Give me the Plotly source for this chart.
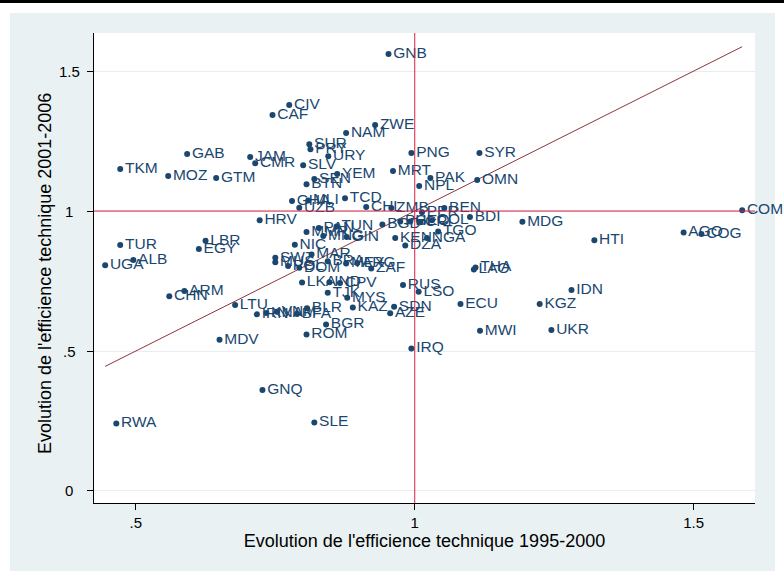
import plotly.graph_objects as go

countries = ["GNB","CIV","CAF","ZWE","NAM","SUR","PRY","GAB","PNG","SYR","JAM","URY","CMR","SLV",
             "TKM","MRT","YEM","MOZ","SEN","GTM","PAK","OMN","BTN","NPL","TCD","GHA","MLI","UZB",
             "CHL","ZMB","PER","BEN","BDI","BGD","PHL","GEO","CRI","COL","TGO","NGA","KEN","DZA",
             "MMR","PAN","TUN","MNG","GIN","NIC","SWZ","MUS","MAR","POL","DOM","BRA","MEX","ARG",
             "ZAF","LKA","IND","CPV","TJK","MYS","KAZ","SDN","AZE","RUS","LSO","BGR","BLR","IRN",
             "KNA","VNM","BFA","ROM","IRQ","MDV","GNQ","SLE","RWA","LTU","TUR","UGA","ALB","LBR",
             "EGY","ARM","CHN","HRV","MDG","HTI","AGO","COG","COM","THA","LAO","IDN","KGZ","MWI",
             "UKR","ECU"]
eff_1995_2000 = [0.953,0.775,0.745,0.929,0.877,0.811,0.813,0.592,0.994,1.116,0.705,0.845,0.714,0.800,
                 0.472,0.961,0.861,0.558,0.820,0.644,1.028,1.112,0.806,1.008,0.875,0.780,0.809,0.793,
                 0.913,0.958,1.013,1.053,1.099,0.942,0.974,0.992,1.010,1.031,1.042,1.022,0.965,0.983,
                 0.806,0.828,0.860,0.836,0.878,0.785,0.750,0.750,0.815,0.773,0.793,0.844,0.877,0.897,
                 0.922,0.798,0.847,0.866,0.844,0.879,0.889,0.963,0.956,0.979,1.007,0.841,0.807,0.717,
                 0.734,0.753,0.789,0.806,0.994,0.650,0.727,0.820,0.465,0.678,0.472,0.445,0.4955,0.625,
                 0.613,0.587,0.560,0.722,1.193,1.322,1.482,1.514,1.587,1.109,1.106,1.281,1.224,1.117,
                 1.245,1.082]
eff_2001_2006 = [1.561,1.379,1.343,1.307,1.279,1.239,1.221,1.204,1.207,1.207,1.193,1.196,1.171,1.164,
                 1.150,1.143,1.132,1.125,1.114,1.118,1.118,1.111,1.096,1.089,1.046,1.036,1.038,1.012,
                 1.014,1.011,0.996,1.011,0.979,0.952,0.963,0.963,0.960,0.967,0.927,0.904,0.904,0.877,
                 0.925,0.939,0.945,0.911,0.907,0.880,0.833,0.817,0.845,0.804,0.797,0.821,0.813,0.814,
                 0.795,0.745,0.746,0.743,0.708,0.690,0.655,0.658,0.635,0.736,0.712,0.595,0.653,0.631,
                 0.636,0.640,0.632,0.559,0.509,0.540,0.361,0.245,0.241,0.664,0.879,0.806,0.825,0.894,
                 0.864,0.714,0.696,0.967,0.962,0.896,0.923,0.918,1.003,0.798,0.791,0.718,0.668,0.572,
                 0.575,0.668]

x_ticks = [0.5, 1, 1.5]
x_ticklabels = [".5", "1", "1.5"]
y_ticks = [0, 0.5, 1, 1.5]
y_ticklabels = ["0", ".5", "1", "1.5"]

NAVY = "#1a476f"
FONT = "Liberation Sans, Arial, sans-serif"
BG = "#e9f1f3"

W, H = 784, 571
ml, mr, mt, mb = 94, 29, 33, 68
pw, ph = W - ml - mr, H - mt - mb

def px(xp):
    return (xp - ml) / pw

def py(yp):
    return (H - mb - yp) / ph

fig = go.Figure()

lo, hi = min(eff_1995_2000), max(eff_1995_2000)
fig.add_trace(go.Scatter(x=[lo, hi], y=[lo, hi], mode="lines",
                         line=dict(color="#90353b", width=1), hoverinfo="skip",
                         showlegend=False))

fig.add_trace(go.Scatter(x=eff_1995_2000, y=eff_2001_2006, mode="markers+text",
                         text=countries, textposition="middle right",
                         textfont=dict(family=FONT, size=15.5, color=NAVY),
                         marker=dict(color=NAVY, size=6),
                         cliponaxis=False, showlegend=False))

shapes = [
    dict(type="line", xref="x", yref="paper", x0=1, x1=1, y0=0, y1=1,
         line=dict(color="#dc1f43", width=1)),
    dict(type="line", xref="paper", yref="y", x0=0, x1=1, y0=1, y1=1,
         line=dict(color="#dc1f43", width=1)),
    dict(type="rect", xref="paper", yref="paper", x0=px(0), x1=px(W), y0=py(13), y1=py(0),
         fillcolor="white", line=dict(width=0), layer="below"),
    dict(type="rect", xref="paper", yref="paper", x0=px(0), x1=px(10), y0=py(H), y1=py(0),
         fillcolor="white", line=dict(width=0), layer="below"),
    dict(type="rect", xref="paper", yref="paper", x0=px(775), x1=px(W), y0=py(H), y1=py(0),
         fillcolor="white", line=dict(width=0), layer="below"),
    dict(type="line", xref="paper", yref="paper", x0=px(0), x1=px(W), y0=py(1.5), y1=py(1.5),
         line=dict(color="black", width=3), layer="above"),
]

annotations = [
    dict(xref="paper", yref="y", x=px(69), y=v, text=t, showarrow=False,
         xanchor="center", yanchor="middle", font=dict(size=15, family=FONT, color="black"))
    for v, t in zip(y_ticks, y_ticklabels)
]
annotations.append(dict(xref="paper", yref="paper", x=px(45), y=py(274), textangle=-90,
                        text="Evolution de l'efficience technique 2001-2006", showarrow=False,
                        xanchor="center", yanchor="middle",
                        font=dict(size=18, family=FONT, color="black")))

fig.update_layout(
    width=W, height=H,
    margin=dict(l=ml, r=mr, t=mt, b=mb, autoexpand=False),
    paper_bgcolor=BG, plot_bgcolor="white",
    font=dict(family=FONT, color="black"),
    shapes=shapes,
    annotations=annotations,
    xaxis=dict(range=[0.425, 1.610], tickvals=x_ticks, ticktext=x_ticklabels,
               showgrid=False, zeroline=False, showline=True, linecolor="black",
               linewidth=1, ticks="outside", ticklen=6, tickcolor="black",
               tickfont=dict(size=15, family=FONT),
               title=dict(text="Evolution de l'efficience technique 1995-2000",
                          font=dict(size=18, family=FONT), standoff=4)),
    yaxis=dict(range=[-0.043, 1.636], tickvals=y_ticks, showticklabels=False,
               showgrid=True, gridcolor="#e6eef1", gridwidth=1,
               zeroline=False, showline=True, linecolor="black",
               linewidth=1, ticks="outside", ticklen=6, tickcolor="black"),
)

fig.write_html("out.html", config={"displayModeBar": False},
               post_script="document.body.style.margin='0px';")
